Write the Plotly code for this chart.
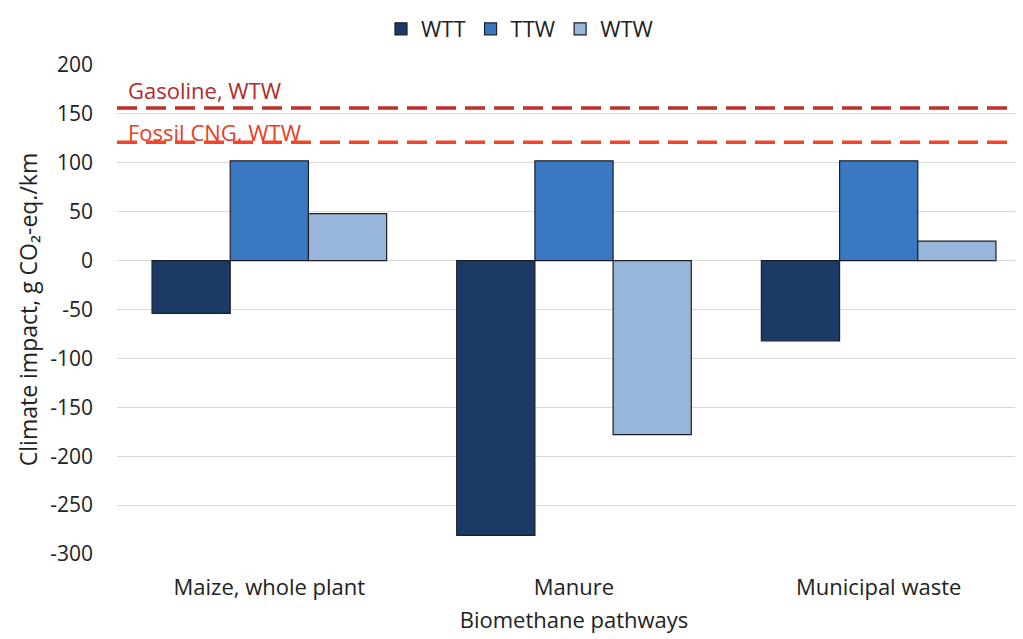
import plotly.graph_objects as go

categories = ["Maize, whole plant", "Manure", "Municipal waste"]
wtt = [-54, -281, -82]
ttw = [102, 102, 102]
wtw = [48, -178, 20]
series_names = ["WTT", "TTW", "WTW"]
gasoline_wtw = 156
fossil_cng_wtw = 121
y_ticks = [200, 150, 100, 50, 0, -50, -100, -150, -200, -250, -300]
y_tick_labels = [str(v) for v in y_ticks]

colors = ["#1B3A66", "#3A78C2", "#98B6D9"]
font_family = "Open Sans, Lato, sans-serif"

fig = go.Figure()
for name, vals, col in zip(series_names, [wtt, ttw, wtw], colors):
    fig.add_trace(go.Bar(
        x=categories, y=vals, name=name,
        marker=dict(color=col, line=dict(color="#1c1f2b", width=1.2)),
    ))

fig.add_shape(type="line", xref="paper", yref="y", x0=0, x1=1,
              y0=gasoline_wtw, y1=gasoline_wtw,
              line=dict(color="#C0302A", width=3.5, dash="20px,9px"))
fig.add_shape(type="line", xref="paper", yref="y", x0=0, x1=1,
              y0=fossil_cng_wtw, y1=fossil_cng_wtw,
              line=dict(color="#F2462B", width=3.5, dash="20px,9px"))
fig.add_annotation(x=0.01, xref="paper", y=gasoline_wtw + 18, yref="y",
                   text="Gasoline, WTW", showarrow=False, xanchor="left",
                   yanchor="middle", font=dict(size=22, color="#B22A2A", family=font_family))
fig.add_annotation(x=0.01, xref="paper", y=fossil_cng_wtw + 11, yref="y",
                   text="Fossil CNG, WTW", showarrow=False, xanchor="left",
                   yanchor="middle", font=dict(size=22, color="#EE3B24", family=font_family))

fig.update_layout(
    width=1023, height=639,
    margin=dict(l=109, r=0, t=57, b=93),
    plot_bgcolor="white", paper_bgcolor="white",
    barmode="group", bargap=0.23, bargroupgap=0,
    font=dict(family=font_family, size=21, color="#222222"),
    legend=dict(orientation="h", xref="container", yref="container",
                x=0.5, xanchor="center", y=1.0, yanchor="top",
                font=dict(size=22), traceorder="normal", itemwidth=30),
    xaxis=dict(range=[-0.5, 2.5], showline=False, ticks="", ticklabelstandoff=18,
               title=dict(text="Biomethane pathways", font=dict(size=22), standoff=12),
               tickfont=dict(size=22), automargin=False),
    yaxis=dict(range=[-300, 200], tickvals=y_ticks, ticktext=y_tick_labels,
               showgrid=True, gridcolor="#D9D9D9",
               gridwidth=1, zeroline=True, zerolinecolor="#D9D9D9", zerolinewidth=1,
               showline=False, ticks="", ticklabelstandoff=23,
               title=dict(text="Climate impact, g CO₂-eq./km", font=dict(size=23), standoff=6),
               tickfont=dict(size=21), automargin=False),
)

fig.write_html("out.html")
